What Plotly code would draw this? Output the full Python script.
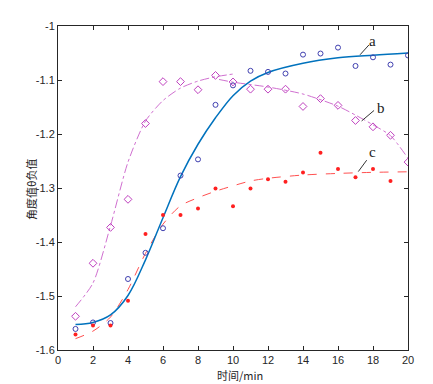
import plotly.graph_objects as go

# ---- data ----
t = list(range(1, 21))

a_pts = [-1.561, -1.549, -1.550, -1.4685, -1.420, -1.3745, -1.277, -1.247, -1.146, -1.110,
         -1.083, -1.085, -1.088, -1.053, -1.051, -1.040, -1.074, -1.058, -1.0715, -1.0545]
b_pts = [-1.5376, -1.4394, -1.373, -1.321, -1.1806, -1.103, -1.103, -1.118, -1.0915, -1.1036,
         -1.117, -1.117, -1.117, -1.149, -1.1345, -1.147, -1.175, -1.1867, -1.2024, -1.252]
c_t = list(range(1, 20))
c_pts = [-1.5715, -1.5545, -1.5545, -1.509, -1.385, -1.350, -1.350, -1.338, -1.301, -1.334,
         -1.301, -1.2836, -1.2885, -1.2715, -1.2345, -1.265, -1.280, -1.2648, -1.287]

# fitted curves
a_fit_x = [1, 2, 3, 4, 5, 6, 7, 8, 9, 10, 11, 12, 14, 16, 18, 20]
a_fit_y = [-1.553, -1.549, -1.535, -1.499, -1.433, -1.355, -1.279, -1.219, -1.170, -1.129,
           -1.102, -1.086, -1.069, -1.059, -1.054, -1.050]
b1_fit_x = [1, 2, 3, 4, 5, 6, 7, 8, 9, 10]
b1_fit_y = [-1.520, -1.476, -1.370, -1.252, -1.176, -1.138, -1.115, -1.102, -1.094, -1.089]
b2_fit_x = [9.2, 10, 12, 14, 16, 17, 18, 19, 20]
b2_fit_y = [-1.099, -1.104, -1.113, -1.126, -1.1485, -1.165, -1.183, -1.203, -1.245]
c_fit_x = [1, 2, 3, 4, 5, 6, 7, 8, 9, 10, 11, 12, 14, 16, 18, 20]
c_fit_y = [-1.579, -1.565, -1.539, -1.488, -1.421, -1.367, -1.333, -1.318, -1.306, -1.296,
           -1.287, -1.282, -1.276, -1.273, -1.271, -1.270]

# curve labels: text, text position, leader line (from curve to text)
labels = ["a", "b", "c"]
label_pos = [(17.98, -1.0273), (18.46, -1.1515), (17.98, -1.2333)]
leader_from = [(17.26, -1.0533), (17.35, -1.1758), (17.16, -1.2696)]
leader_to = [(17.77, -1.0350), (18.06, -1.1564), (17.64, -1.2485)]

x_ticks = list(range(0, 21, 2))
y_ticks = [-1.6, -1.5, -1.4, -1.3, -1.2, -1.1, -1.0]
y_tick_text = ["-1.6", "-1.5", "-1.4", "-1.3", "-1.2", "-1.1", "-1"]

x_title = "时间/min"
y_title = "角度值θ负值"

BLUE_LINE = "#0072BD"
BLUE_PT = "#4040B0"
MAG = "#BF40BF"
MAG_LINE = "#D070D0"
RED = "#FF2020"
RED_LINE = "#FF5050"
AX = "#262626"

fig = go.Figure()

fig.add_trace(go.Scatter(x=b1_fit_x, y=b1_fit_y, mode="lines",
                         line=dict(color=MAG_LINE, width=1, dash="dashdot", shape="spline", smoothing=0.7)))
fig.add_trace(go.Scatter(x=b2_fit_x, y=b2_fit_y, mode="lines",
                         line=dict(color=MAG_LINE, width=1, dash="dashdot", shape="spline", smoothing=0.7)))
fig.add_trace(go.Scatter(x=c_fit_x, y=c_fit_y, mode="lines",
                         line=dict(color=RED_LINE, width=1, dash="dash", shape="spline", smoothing=0.8)))
fig.add_trace(go.Scatter(x=a_fit_x, y=a_fit_y, mode="lines",
                         line=dict(color=BLUE_LINE, width=1.5, shape="spline", smoothing=1.0)))

fig.add_trace(go.Scatter(x=t, y=a_pts, mode="markers",
                         marker=dict(symbol="circle-open", size=5, color=BLUE_PT, line=dict(width=1))))
fig.add_trace(go.Scatter(x=t, y=b_pts, mode="markers",
                         marker=dict(symbol="diamond-open", size=6, color=MAG, line=dict(width=1))))
fig.add_trace(go.Scatter(x=c_t, y=c_pts, mode="markers",
                         marker=dict(symbol="circle", size=4, color=RED)))

for txt, (lx, ly), (fx, fy), (tx, ty) in zip(labels, label_pos, leader_from, leader_to):
    fig.add_shape(type="line", x0=fx, y0=fy, x1=tx, y1=ty, xref="x", yref="y",
                  line=dict(color="#333333", width=1))
    fig.add_annotation(x=lx, y=ly, text=txt, showarrow=False, xref="x", yref="y",
                       font=dict(family="Liberation Serif", size=15, color="#222222"))

# axis titles
fig.add_annotation(x=0.52, y=-0.076, xref="paper", yref="paper", text=x_title,
                   showarrow=False, xanchor="center", yanchor="middle",
                   font=dict(family="Noto Sans CJK SC", size=11, color=AX))
fig.add_annotation(x=-0.077, y=0.494, xref="paper", yref="paper", text=y_title,
                   showarrow=False, textangle=-90, xanchor="center", yanchor="middle",
                   font=dict(family="Noto Sans CJK SC", size=11, color=AX))

# the page body adds an 8px margin, so the figure is sized to sit inside the window
fig.update_layout(
    width=425, height=376,
    margin=dict(l=50, r=25, t=12, b=34),
    paper_bgcolor="white", plot_bgcolor="white",
    showlegend=False,
    font=dict(family="Liberation Sans, Arial", size=11, color=AX),
)
fig.update_xaxes(
    range=[0, 20], tickvals=x_ticks, ticks="inside", ticklen=4, tickcolor=AX,
    showline=True, linecolor=AX, linewidth=1, mirror="ticks", showgrid=False, zeroline=False,
    tickfont=dict(family="Liberation Sans, Arial", size=11, color=AX),
)
fig.update_yaxes(
    range=[-1.6, -1.0], tickvals=y_ticks, ticktext=y_tick_text, ticks="inside", ticklen=4,
    tickcolor=AX, showline=True, linecolor=AX, linewidth=1, mirror="ticks", showgrid=False,
    zeroline=False,
    tickfont=dict(family="Liberation Sans, Arial", size=11, color=AX),
)

fig.write_html("out.html")
